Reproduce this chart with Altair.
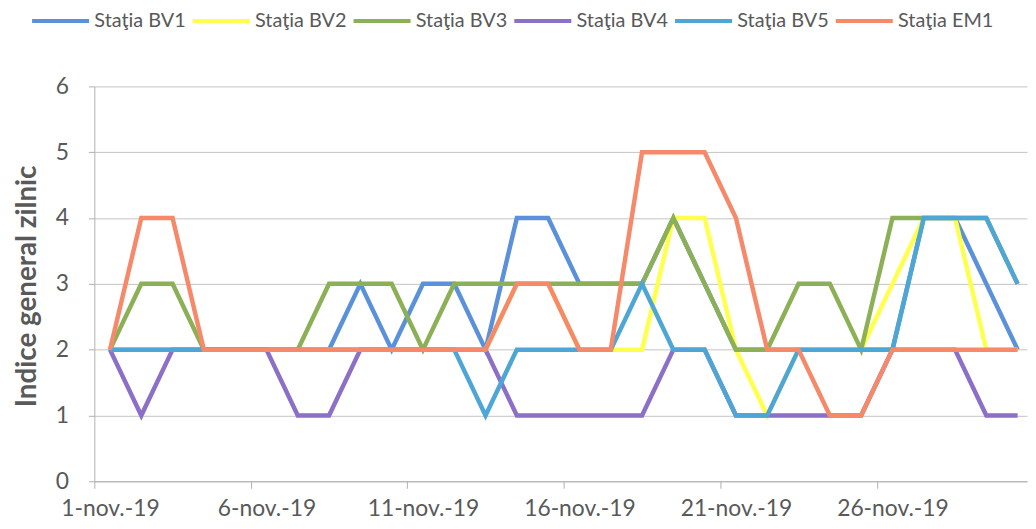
import json
import altair as alt
import pandas as pd

days = list(range(1, 31))
series = ["Staţia BV1", "Staţia BV2", "Staţia BV3", "Staţia BV4", "Staţia BV5", "Staţia EM1"]
colors = ["#5B90DA", "#FFFF4D", "#8CB055", "#8C6FC6", "#4DA6D6", "#F6896A"]

bv1 = [2, 2, 2, 2, 2, 2, 2, 2, 3, 2, 3, 3, 2, 4, 4, 3, 3, 3, 4, 3, 2, 2, 2, 2, 2, 2, 4, 4, 3, 2]
bv2 = [2, 2, 2, 2, 2, 2, 2, 2, 2, 2, 2, 2, 2, 3, 3, 2, 2, 2, 4, 4, 2, 1, 2, 2, 2, 3, 4, 4, 2, 2]
bv3 = [2, 3, 3, 2, 2, 2, 2, 3, 3, 3, 2, 3, 3, 3, 3, 3, 3, 3, 4, 3, 2, 2, 3, 3, 2, 4, 4, 4, 4, 3]
bv4 = [2, 1, 2, 2, 2, 2, 1, 1, 2, 2, 2, 2, 2, 1, 1, 1, 1, 1, 2, 2, 1, 1, 1, 1, 1, 2, 2, 2, 1, 1]
bv5 = [2, 2, 2, 2, 2, 2, 2, 2, 2, 2, 2, 2, 1, 2, 2, 2, 2, 3, 2, 2, 1, 1, 2, 2, 2, 2, 4, 4, 4, 3]
em1 = [2, 4, 4, 2, 2, 2, 2, 2, 2, 2, 2, 2, 2, 3, 3, 2, 2, 5, 5, 5, 4, 2, 2, 1, 1, 2, 2, 2, 2, 2]

tick_positions = [0.5, 5.5, 10.5, 15.5, 20.5, 25.5]
tick_labels = ["1-nov.-19", "6-nov.-19", "11-nov.-19", "16-nov.-19", "21-nov.-19", "26-nov.-19"]
y_ticks = [0, 1, 2, 3, 4, 5, 6]

values = [bv1, bv2, bv3, bv4, bv5, em1]
rows = []
for name, vals in zip(series, values):
    for d, v in zip(days, vals):
        rows.append({"day": d, "value": v, "series": name})
df = pd.DataFrame(rows)

FONT = "Lato"
TXT = "#595959"
GRID = "#c4c4c4"

label_expr = json.dumps(tick_labels) + "[round((datum.value - 0.5) / 5)]"

x_enc = alt.X(
    "day:Q",
    scale=alt.Scale(domain=[0.5, 30.3], nice=False, zero=False),
    axis=alt.Axis(
        values=tick_positions,
        labelExpr=label_expr,
        labelOffset=15.8,
        labelFlush=False,
        labelOverlap=False,
        labelFont=FONT,
        labelFontSize=23,
        labelColor=TXT,
        labelPadding=9,
        grid=False,
        tickSize=7,
        tickColor="#b0b0b0",
        domainColor="#b0b0b0",
        title=None,
    ),
)
y_enc = alt.Y(
    "value:Q",
    scale=alt.Scale(domain=[0, 6], nice=False),
    axis=alt.Axis(
        values=y_ticks,
        grid=True,
        gridColor=GRID,
        tickSize=6,
        tickColor="#b0b0b0",
        domainColor="#b0b0b0",
        labelFont=FONT,
        labelFontSize=23,
        labelColor=TXT,
        labelPadding=20,
        title="Indice general zilnic",
        titleFont=FONT,
        titleFontSize=28,
        titleFontWeight="bold",
        titleColor=TXT,
        titlePadding=14,
        titleY=201,
    ),
)
color_enc = alt.Color(
    "series:N",
    scale=alt.Scale(domain=series, range=colors),
    legend=alt.Legend(
        orient="none",
        legendX=-65,
        legendY=-97,
        direction="horizontal",
        columns=6,
        gridAlign="all",
        columnPadding=-7,
        symbolType="stroke",
        symbolSize=3300,
        symbolStrokeWidth=4,
        labelFont=FONT,
        labelFontSize=20,
        labelColor=TXT,
        labelOffset=3,
        padding=0,
        title=None,
    ),
)

layers = []
for name in series:
    layers.append(
        alt.Chart(df)
        .transform_filter(alt.datum.series == name)
        .mark_line(strokeWidth=4.5)
        .encode(x=x_enc, y=y_enc, color=color_enc)
    )

chart = (
    alt.layer(*layers)
    .properties(
        width=940,
        height=398,
        padding={"left": 87, "top": 77, "right": 1, "bottom": 38},
        autosize=alt.AutoSizeParams(type="none"),
        background="white",
    )
    .configure_view(stroke=None)
)

chart.save("out.html", embed_options={"renderer": "svg", "actions": False})
